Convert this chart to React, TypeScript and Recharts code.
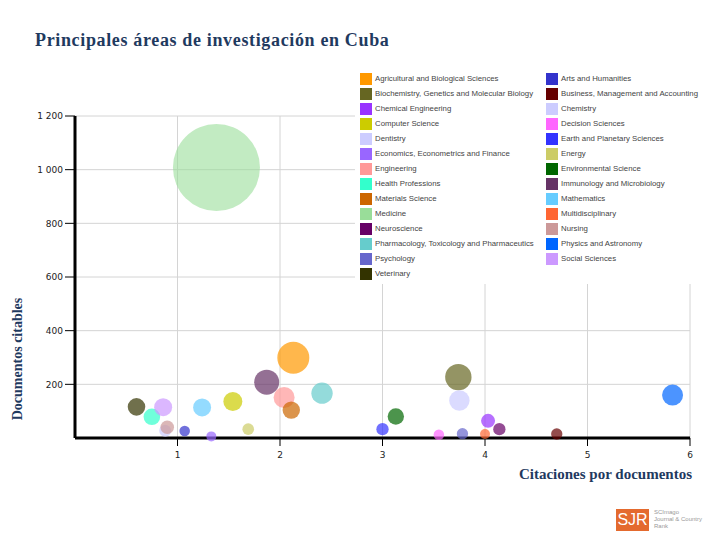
import {
  CartesianGrid,
  Legend,
  Scatter,
  ScatterChart,
  XAxis,
  YAxis,
  ZAxis,
} from "recharts";

// Áreas temáticas (orden alfabético, igual que la leyenda)
const categorias = [
  "Agricultural and Biological Sciences",
  "Arts and Humanities",
  "Biochemistry, Genetics and Molecular Biology",
  "Business, Management and Accounting",
  "Chemical Engineering",
  "Chemistry",
  "Computer Science",
  "Decision Sciences",
  "Dentistry",
  "Earth and Planetary Sciences",
  "Economics, Econometrics and Finance",
  "Energy",
  "Engineering",
  "Environmental Science",
  "Health Professions",
  "Immunology and Microbiology",
  "Materials Science",
  "Mathematics",
  "Medicine",
  "Multidisciplinary",
  "Neuroscience",
  "Nursing",
  "Pharmacology, Toxicology and Pharmaceutics",
  "Physics and Astronomy",
  "Psychology",
  "Social Sciences",
  "Veterinary",
];

const colores = [
  "#ff9900", "#3333cc", "#666622", "#660000", "#9933ff", "#ccccff",
  "#cccc00", "#ff66ff", "#ccccff", "#3333ff", "#9966ff", "#cccc66",
  "#ff9999", "#006600", "#33ffcc", "#663366", "#cc6600", "#66ccff",
  "#99dd99", "#ff6633", "#660066", "#cc9999", "#66cccc", "#0066ff",
  "#6666cc", "#cc99ff", "#333300",
];

// eje X: citas por documento
const citasPorDoc = [
  2.13, 1.07, 3.74, 4.7, 4.03, 3.75, 1.54, 3.55, 0.88, 3.0, 1.33, 1.69, 2.04,
  3.13, 0.75, 1.87, 2.11, 1.24, 1.38, 4.0, 4.14, 0.9, 2.41, 5.83, 3.78, 0.86,
  0.6,
];

// eje Y: documentos citables
const docsCitables = [
  299, 26, 227, 15, 64, 140, 136, 12, 27, 33, 6, 33, 151, 80, 79, 208, 104,
  114, 1008, 15, 33, 40, 167, 160, 16, 115, 116,
];

// tamaño de burbuja
const peso = [
  256, 28, 174, 32, 49, 104, 90, 28, 36, 38, 25, 34, 110, 67, 69, 156, 76, 81,
  1892, 25, 38, 46, 114, 110, 32, 81, 77,
];

const yTicks = [200, 400, 600, 800, 1000, 1200];
const xTicks = [1, 2, 3, 4, 5, 6];

const azul = "#1f3a5f";
const serif = "'Liberation Serif', 'DejaVu Serif', serif";

const formatoMiles = (v: number) =>
  v >= 1000 ? `${Math.floor(v / 1000)} ${String(v % 1000).padStart(3, "0")}` : String(v);

function Leyenda() {
  return (
    <div
      style={{
        display: "grid",
        gridTemplateColumns: "186px 166px",
        gridAutoRows: "15px",
        fontFamily: "'Liberation Sans', Arial, sans-serif",
        fontSize: 7.8,
        color: "#444",
      }}
    >
      {categorias.map((c, i) => (
        <div key={c} style={{ display: "flex", alignItems: "center", whiteSpace: "nowrap" }}>
          <span
            style={{
              display: "inline-block",
              width: 12,
              height: 12,
              background: colores[i],
              marginRight: 3,
            }}
          />
          {c}
        </div>
      ))}
    </div>
  );
}

export default function App() {
  return (
    <div
      style={{
        position: "absolute",
        left: 0,
        top: 0,
        width: 720,
        height: 540,
        background: "#fff",
      }}
    >
      <div
        style={{
          position: "absolute",
          left: 35,
          top: 30,
          fontFamily: serif,
          fontWeight: "bold",
          fontSize: 18,
          letterSpacing: 0.65,
          color: azul,
        }}
      >
        Principales áreas de investigación en Cuba
      </div>

      <ScatterChart
        width={720}
        height={540}
        margin={{ top: 116, right: 30, bottom: 72, left: 15 }}
      >
        <CartesianGrid stroke="#d4d4d4" />
        <XAxis
          type="number"
          dataKey="x"
          domain={[0, 6]}
          ticks={xTicks}
          height={30}
          tickSize={8}
          axisLine={{ stroke: "#000", strokeWidth: 3 }}
          tickLine={{ stroke: "#000" }}
          tick={{ fontSize: 9, fill: "#222", fontFamily: "'DejaVu Sans', sans-serif", dy: 4 }}
          label={{
            content: (p: any) => (
              <text
                x={p.viewBox.x + p.viewBox.width + 2}
                y={p.viewBox.y + 41}
                textAnchor="end"
                fontFamily={serif}
                fontWeight="bold"
                fontSize={15}
                fill={azul}
              >
                Citaciones por documentos
              </text>
            ),
          }}
        />
        <YAxis
          type="number"
          dataKey="y"
          domain={[0, 1200]}
          ticks={yTicks}
          width={60}
          tickSize={10}
          tickFormatter={formatoMiles}
          axisLine={{ stroke: "#000", strokeWidth: 3 }}
          tickLine={{ stroke: "#000" }}
          tick={{ fontSize: 9, fill: "#222", fontFamily: "'DejaVu Sans', sans-serif" }}
          label={{
            content: () => (
              <text
                x={17}
                y={359}
                transform="rotate(-90 17 359)"
                textAnchor="middle"
                dominantBaseline="central"
                fontFamily={serif}
                fontWeight="bold"
                fontSize={14}
                fill={azul}
              >
                Documentos citables
              </text>
            ),
          }}
        />
        <ZAxis type="number" dataKey="z" domain={[0, 1892]} range={[0, Math.PI * 43.5 * 43.5]} />
        <Legend
          layout="vertical"
          align="center"
          verticalAlign="middle"
          content={() => <Leyenda />}
          wrapperStyle={{
            left: 355,
            top: 70,
            width: 355,
            height: 213,
            background: "#fff",
            paddingLeft: 5,
            paddingTop: 1,
          }}
        />
        {categorias.map((c, i) => (
          <Scatter
            key={c}
            name={c}
            data={[{ x: citasPorDoc[i], y: docsCitables[i], z: peso[i] }]}
            fill={colores[i]}
            fillOpacity={i === 18 ? 0.6 : 0.7}
            isAnimationActive={false}
          />
        ))}
      </ScatterChart>

      <div
        style={{
          position: "absolute",
          left: 616,
          top: 509,
          width: 33,
          height: 22,
          background: "#e46a2e",
          color: "#fff",
          fontFamily: "'Liberation Sans', Arial, sans-serif",
          fontSize: 16,
          lineHeight: "22px",
          textAlign: "center",
        }}
      >
        SJR
      </div>
      <div
        style={{
          position: "absolute",
          left: 654,
          top: 509,
          fontFamily: "'Liberation Sans', Arial, sans-serif",
          fontSize: 6,
          lineHeight: "7px",
          color: "#999",
        }}
      >
        SCImago
        <br />
        Journal &amp; Country
        <br />
        Rank
      </div>
    </div>
  );
}
